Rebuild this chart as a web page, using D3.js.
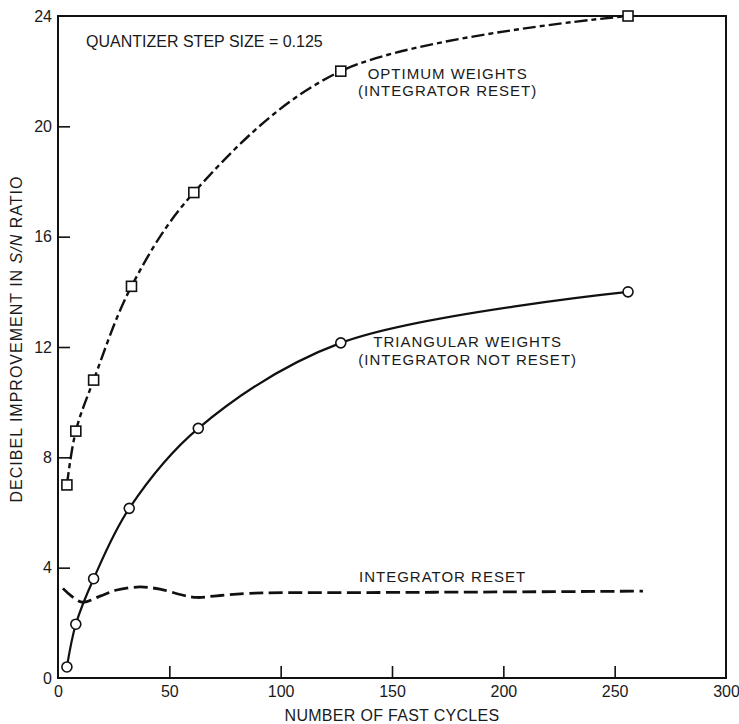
<!DOCTYPE html>
<html>
<head>
<meta charset="utf-8">
<script src="https://cdn.jsdelivr.net/npm/d3@7"></script>
<style>
  body { margin: 0; background: #fff; }
  svg { display: block; font-family: 'Liberation Sans', Arial, Helvetica, sans-serif; }
  text { fill: #1a1a1a; }
</style>
</head>
<body>
<svg id="chart" width="739" height="724"></svg>
<script>
// values
const xTicks = [0, 50, 100, 150, 200, 250, 300]
const yTicks = [0, 4, 8, 12, 16, 20, 24]

const optimumX = [4, 8, 16, 33, 61, 127, 256]
const optimumY = [7.0, 8.95, 10.8, 14.2, 17.6, 22.0, 24.0]

const triangularX = [4, 8, 16, 32, 63, 127, 256]
const triangularY = [0.4, 1.95, 3.6, 6.15, 9.05, 12.15, 14.0]

const resetX = [2.2, 10.7, 18.9, 26.4, 36.8, 45.8, 56.2, 62.4, 71.3, 86, 144.6, 200, 262.7]
const resetY = [3.25, 2.75, 2.97, 3.19, 3.3, 3.22, 3.0, 2.92, 2.98, 3.07, 3.1, 3.12, 3.15]

const svg = d3.select('#chart')

const plotLeft = 58, plotRight = 726, plotTop = 16, plotBottom = 678

const x = d3.scaleLinear().domain([0, 300]).range([plotLeft, plotRight])
const y = d3.scaleLinear().domain([0, 24]).range([plotBottom, plotTop])

const zip = (xs, ys) => xs.map((v, i) => ({ x: v, y: ys[i] }))

// axes, ticks pointing inward
const xaxis = d3.axisBottom(x).tickValues(xTicks).tickSize(-12).tickPadding(8).tickFormat(d3.format('d'))
const yaxis = d3.axisLeft(y).tickValues(yTicks).tickSize(-12).tickPadding(6).tickFormat(d3.format('d'))

svg.append('g').attr('class', 'xaxis').attr('transform', `translate(0,${plotBottom})`).call(xaxis)
svg.append('g').attr('class', 'yaxis').attr('transform', `translate(${plotLeft},0)`).call(yaxis)

svg.selectAll('.domain').remove()
svg.selectAll('.tick line').attr('stroke', '#111').attr('stroke-width', 1.6)
svg.selectAll('.tick text').attr('font-size', 16).attr('fill', '#1a1a1a')
  .attr('font-family', "'Liberation Sans', Arial, sans-serif")
// corner ticks are just the frame
svg.selectAll('.xaxis .tick line').filter(d => d === 0 || d === 300).remove()
svg.selectAll('.yaxis .tick line').filter(d => d === 0 || d === 24).remove()
svg.selectAll('.yaxis .tick text').attr('x', -6)

// frame
svg.append('rect')
  .attr('x', plotLeft).attr('y', plotTop)
  .attr('width', plotRight - plotLeft).attr('height', plotBottom - plotTop)
  .attr('fill', 'none').attr('stroke', '#111').attr('stroke-width', 2)

// curves
const line = d3.line().x(d => x(d.x)).y(d => y(d.y)).curve(d3.curveCatmullRom.alpha(0.5))

svg.append('path').datum(zip(resetX, resetY))
  .attr('d', line).attr('fill', 'none').attr('stroke', '#111')
  .attr('stroke-width', 2.8).attr('stroke-dasharray', '14,5.5')

svg.append('path').datum(zip(optimumX, optimumY))
  .attr('d', line).attr('fill', 'none').attr('stroke', '#111')
  .attr('stroke-width', 2.4).attr('stroke-dasharray', '13,4,5,4')

svg.append('path').datum(zip(triangularX, triangularY))
  .attr('d', line).attr('fill', 'none').attr('stroke', '#111')
  .attr('stroke-width', 2.2)

// markers
svg.append('g').selectAll('rect').data(zip(optimumX, optimumY)).enter()
  .append('rect')
  .attr('x', d => x(d.x) - 5).attr('y', d => y(d.y) - 5)
  .attr('width', 10).attr('height', 10)
  .attr('fill', '#fff').attr('stroke', '#111').attr('stroke-width', 1.6)

svg.append('g').selectAll('circle').data(zip(triangularX, triangularY)).enter()
  .append('circle')
  .attr('cx', d => x(d.x)).attr('cy', d => y(d.y)).attr('r', 5)
  .attr('fill', '#fff').attr('stroke', '#111').attr('stroke-width', 1.6)

// annotations
const note = (tx, ty, str) => svg.append('text')
  .attr('x', x(tx)).attr('y', y(ty))
  .attr('text-anchor', 'middle')
  .attr('font-size', 15).attr('letter-spacing', 1)
  .text(str)

svg.append('text')
  .attr('x', x(12.6)).attr('y', y(22.88))
  .attr('font-size', 16)
  .text('QUANTIZER STEP SIZE = 0.125')

note(175, 21.72, 'OPTIMUM WEIGHTS')
note(175, 21.1, '(INTEGRATOR RESET)')
note(184, 12.0, 'TRIANGULAR WEIGHTS')
note(184, 11.35, '(INTEGRATOR NOT RESET)')
note(172.7, 3.48, 'INTEGRATOR RESET')

// axis titles
svg.append('text')
  .attr('x', (plotLeft + plotRight) / 2) .attr('y', 721)
  .attr('text-anchor', 'middle').attr('font-size', 16).attr('letter-spacing', 0.3)
  .text('NUMBER OF FAST CYCLES')

const ytitle = svg.append('text')
  .attr('transform', `translate(22,${(plotTop + plotBottom) / 2 - 8}) rotate(-90)`)
  .attr('text-anchor', 'middle').attr('font-size', 16).attr('letter-spacing', 1)
ytitle.append('tspan').text('DECIBEL IMPROVEMENT IN ')
ytitle.append('tspan').attr('font-style', 'italic').text('S/N')
ytitle.append('tspan').text(' RATIO')
</script>
</body>
</html>
